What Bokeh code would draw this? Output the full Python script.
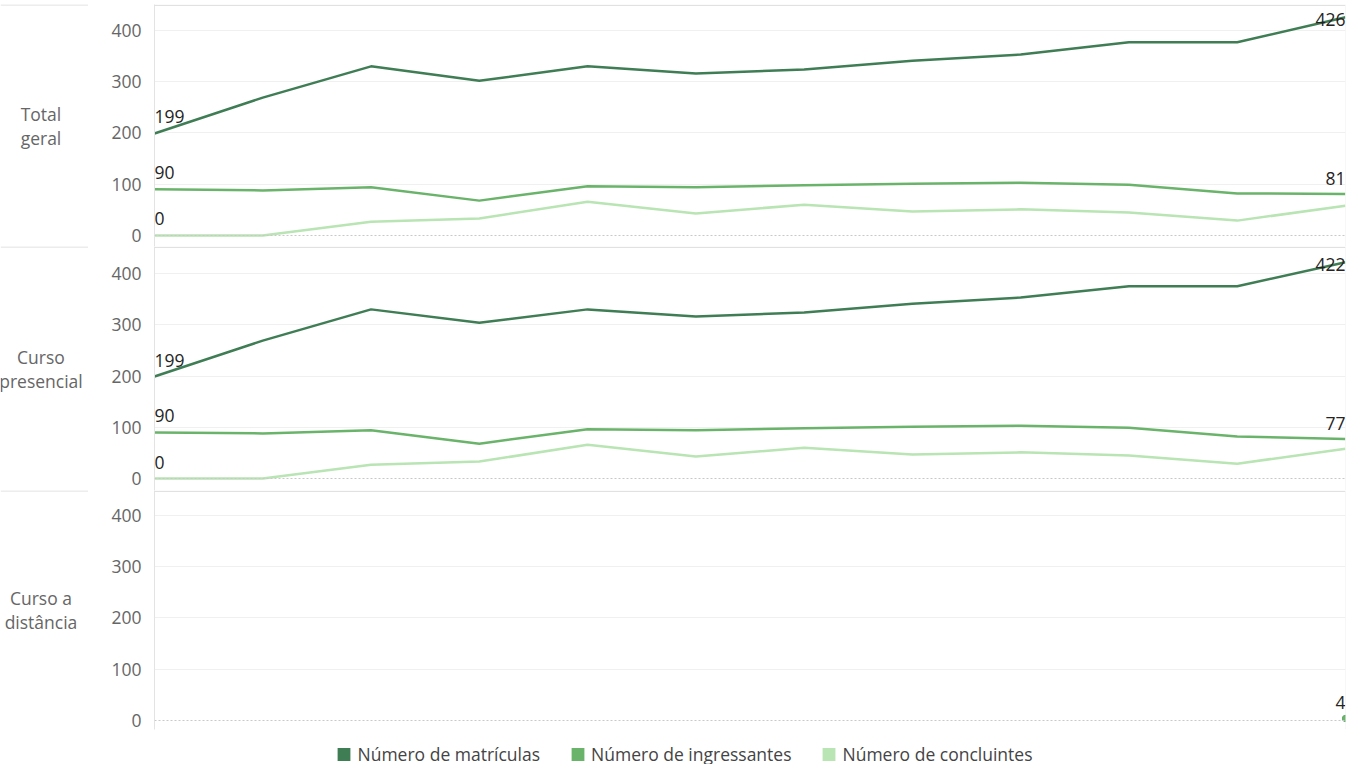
import math
from bokeh.plotting import figure
from bokeh.layouts import column, row
from bokeh.models import (Range1d, FixedTicker, Span, ColumnDataSource, Legend, LegendItem)
from bokeh.core.properties import value
from bokeh.embed import file_html
from bokeh.resources import INLINE

NaN = float("nan")

# ---- data ----
periods = list(range(12))  # 12 consecutive periods (no labels shown in the original)
series_names = ["Número de matrículas", "Número de ingressantes", "Número de concluintes"]
series_colors = ["#3F7D55", "#6AB36A", "#B9E4B3"]
panel_labels = ["Total\ngeral", "Curso\npresencial", "Curso a\ndistância"]

total_matriculas = [199, 269, 330, 302, 330, 316, 324, 341, 353, 377, 377, 426]
total_ingressantes = [90, 88, 94, 68, 96, 94, 98, 101, 103, 99, 82, 81]
total_concluintes = [0, 0, 27, 33, 66, 43, 60, 47, 51, 45, 29, 58]

pres_matriculas = [199, 269, 330, 304, 330, 316, 324, 341, 353, 375, 375, 422]
pres_ingressantes = [90, 88, 94, 68, 96, 94, 98, 101, 103, 99, 82, 77]
pres_concluintes = [0, 0, 27, 33, 66, 43, 60, 47, 51, 45, 29, 58]

dist_matriculas = [NaN] * 11 + [4]
dist_ingressantes = [NaN] * 11 + [4]
dist_concluintes = [NaN] * 12

y_ticks = [0, 100, 200, 300, 400]

panels = [
    [total_matriculas, total_ingressantes, total_concluintes],
    [pres_matriculas, pres_ingressantes, pres_concluintes],
    [dist_matriculas, dist_ingressantes, dist_concluintes],
]

# ---- layout / style ----
FONT = "Open Sans"
FS = "17.5px"
GRID = "#F0F0F0"
SEP = "#D9D9D9"
TOTAL_W = 1356
LABEL_W = 88
PANEL_H = [246, 244, 244]
PANEL_TOP = [4, 0, 0]
PANEL_BOTTOM = [0, 0, 5]
PANEL_YR = [(-21.5, 450.7), (-23.4, 452.7), (-17.6, 448.8)]


def label_fig(text, h, top, bottom):
    lf = figure(width=LABEL_W, height=h, output_backend="svg", toolbar_location=None,
                x_range=Range1d(0, 1), y_range=Range1d(0, 1),
                min_border_left=0, min_border_right=0, min_border_top=top, min_border_bottom=bottom)
    lf.axis.visible = False
    lf.grid.visible = False
    lf.outline_line_color = None
    lines = text.split("\n")
    n = len(lines)
    offs = [(i - (n - 1) / 2) * 24 for i in range(n)]
    lf.text(x=[0.46] * n, y=[0.5] * n, y_offset=offs, text=lines,
            text_font=value(FONT), text_font_size=FS, text_color="#666666",
            text_align="center", text_baseline="middle")
    lf.add_layout(Span(location=0.998, dimension="width", line_color=SEP, line_width=1))
    return lf


def chart_fig(data, h, top, bottom, yr):
    p = figure(width=TOTAL_W - LABEL_W, height=h, output_backend="svg", toolbar_location=None,
               x_range=Range1d(0, 11), y_range=Range1d(*yr),
               min_border_left=66, min_border_right=TOTAL_W - 1345, min_border_top=top,
               min_border_bottom=bottom)
    p.xaxis.visible = False
    p.xgrid.visible = False
    p.outline_line_color = None
    p.ygrid.ticker = FixedTicker(ticks=y_ticks[1:])
    p.ygrid.grid_line_color = GRID
    p.yaxis.ticker = FixedTicker(ticks=y_ticks)
    p.yaxis.major_tick_line_color = None
    p.yaxis.minor_tick_line_color = None
    p.yaxis.axis_line_color = "#E3E3E3"
    p.yaxis.major_label_text_font = FONT
    p.yaxis.major_label_text_font_size = FS
    p.yaxis.major_label_text_color = "#666666"
    p.yaxis.major_label_standoff = 7
    p.add_layout(Span(location=0, dimension="width", line_color="#C8C8C8", line_width=1, line_dash="2 2"))
    p.add_layout(Span(location=yr[1] - 1.5, dimension="width", line_color=SEP, line_width=1))
    p.add_layout(Span(location=11, dimension="height", line_color="#F0F0F0", line_width=1))

    for k, (vals, col) in enumerate(zip(data, series_colors)):
        p.line(periods, vals, line_color=col, line_width=2.5)
        valid = [i for i, v in enumerate(vals) if not math.isnan(v)]
        if len(valid) == 1:
            i = valid[0]
            p.scatter([periods[i]], [vals[i]], size=6, color=col)
    # data labels: first point of each series, last point of the first two
    lx, ly, lt, la, lb, lo = [], [], [], [], [], []
    for k, vals in enumerate(data):
        valid = [i for i, v in enumerate(vals) if not math.isnan(v)]
        if not valid:
            continue
        if len(valid) > 1:
            i = valid[0]
            lx.append(periods[i]); ly.append(vals[i]); lt.append(str(vals[i]))
            la.append("left"); lb.append("bottom"); lo.append(-10)
        if k < 2:
            if len(valid) == 1 and k == 1:
                continue
            i = valid[-1]
            v = vals[i]
            lx.append(periods[i]); ly.append(v); lt.append(str(v))
            la.append("right")
            if v > 400:
                lb.append("middle"); lo.append(2)
            else:
                lb.append("bottom"); lo.append(-9)
    src = ColumnDataSource(dict(x=lx, y=ly, t=lt, a=la, b=lb, o=lo))
    p.text(x="x", y="y", text="t", text_align="a", text_baseline="b", y_offset="o",
           source=src, text_font=value(FONT), text_font_size=FS, text_color="#252423")
    return p


rows = []
for idx, data in enumerate(panels):
    rows.append(row(label_fig(panel_labels[idx], PANEL_H[idx], PANEL_TOP[idx], PANEL_BOTTOM[idx]),
                    chart_fig(data, PANEL_H[idx], PANEL_TOP[idx], PANEL_BOTTOM[idx], PANEL_YR[idx])))

# legend strip
lg = figure(width=TOTAL_W, height=30, output_backend="svg", toolbar_location=None,
            x_range=Range1d(0, 1), y_range=Range1d(0, 1),
            min_border_left=12, min_border_right=0, min_border_top=9, min_border_bottom=0)
lg.axis.visible = False
lg.grid.visible = False
lg.outline_line_color = None
items = []
for name, col in zip(series_names, series_colors):
    r = lg.quad(left=[-5], right=[-4], bottom=[-5], top=[-4], fill_color=col, line_color=None)
    items.append(LegendItem(label=name, renderers=[r]))
legend = Legend(items=items, orientation="horizontal", location="center",
                label_text_font=FONT, label_text_font_size=FS, label_text_color="#444444",
                glyph_width=16, glyph_height=16, label_standoff=6, spacing=29,
                border_line_color=None, background_fill_alpha=0, padding=0, margin=0)
lg.add_layout(legend, "center")

layout = column(*rows, lg, spacing=0)
open("out.html", "w").write(file_html(layout, INLINE))
